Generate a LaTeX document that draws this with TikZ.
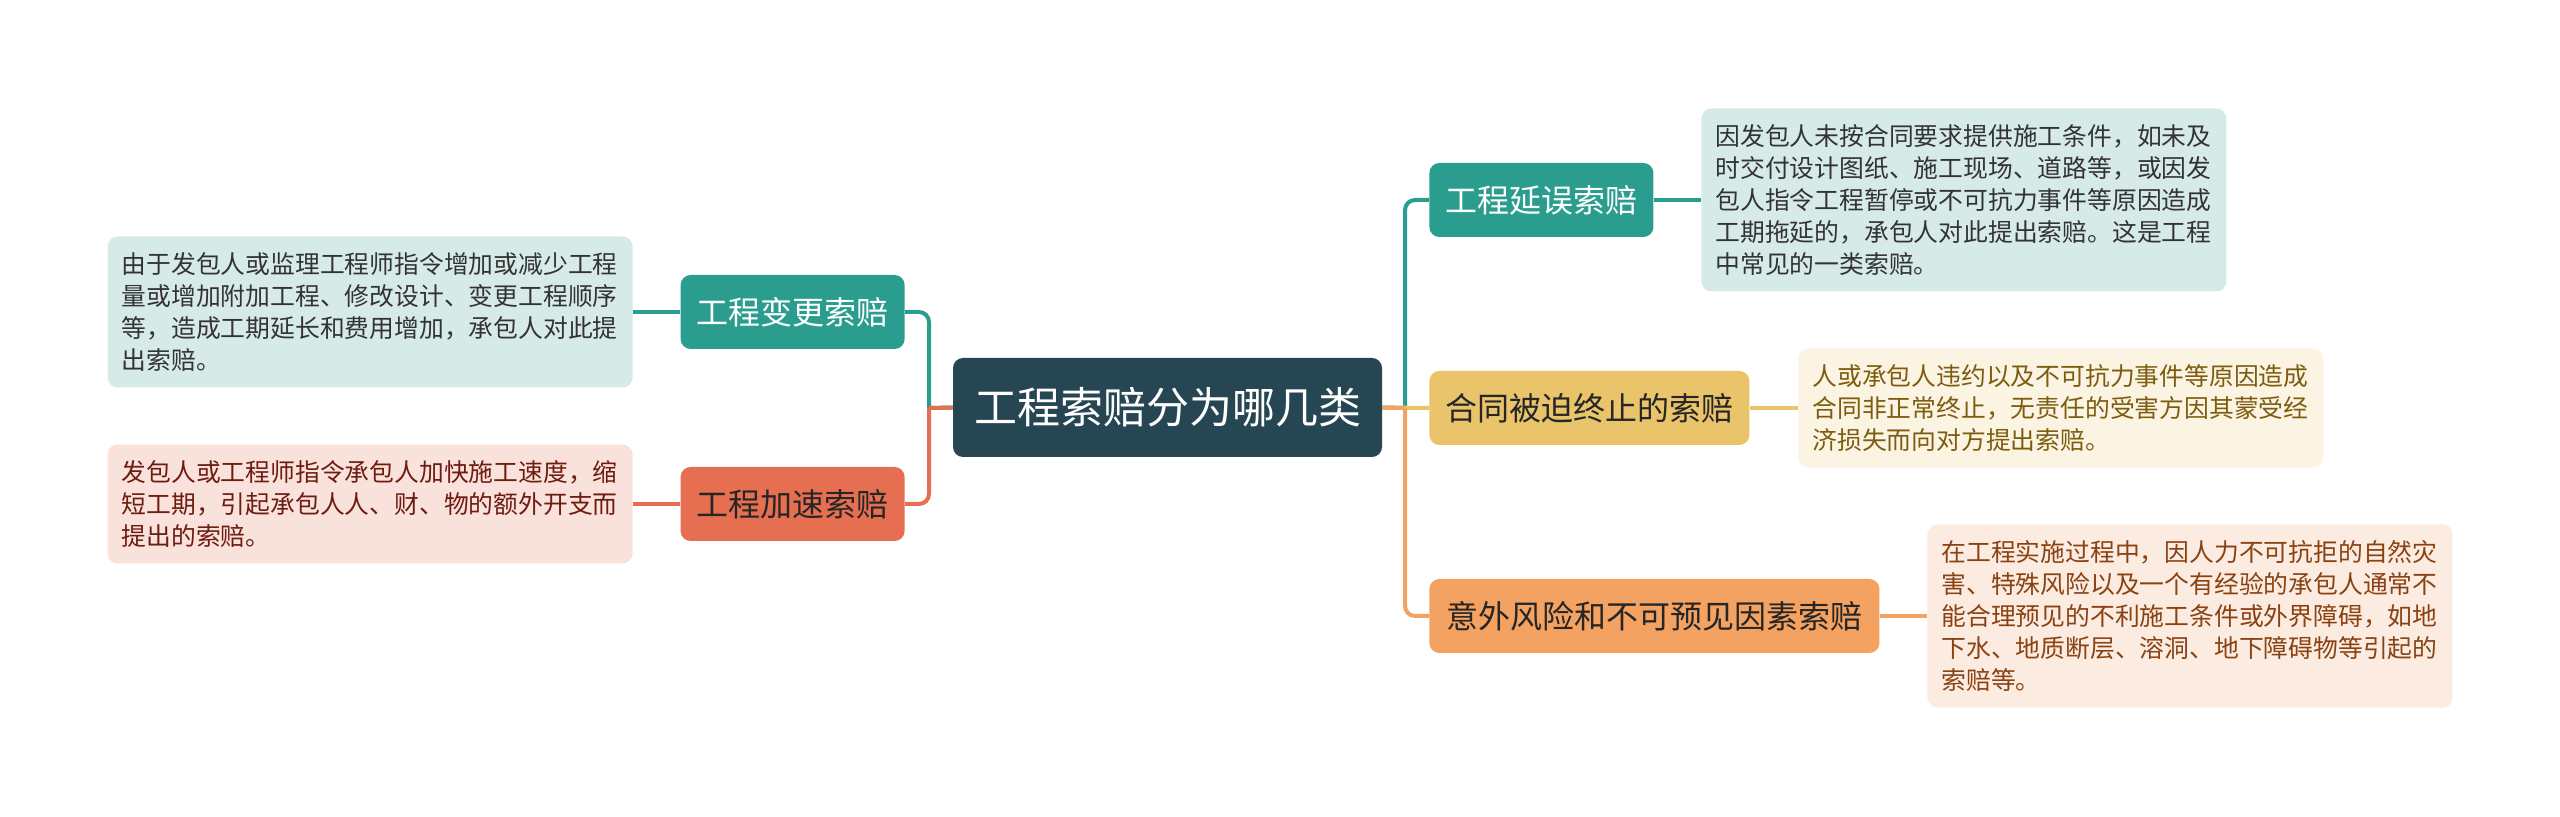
\documentclass[tikz,border=0pt]{standalone}
\usepackage{fontspec}
\setmainfont{Noto Sans CJK SC}
\usepackage{tikz}
\usetikzlibrary{positioning}
\definecolor{mmdark}{RGB}{38,70,83}
\definecolor{mmteal}{RGB}{42,157,143}
\definecolor{mmyellow}{RGB}{233,196,106}
\definecolor{mmsand}{RGB}{244,162,97}
\definecolor{mmburnt}{RGB}{231,111,81}
\definecolor{mmtealbg}{RGB}{214,235,232}
\definecolor{mmpinkbg}{RGB}{250,226,220}
\definecolor{mmcreambg}{RGB}{251,244,226}
\definecolor{mmpeachbg}{RGB}{252,235,224}

\begin{document}
\begin{tikzpicture}[x=0.5pt,y=-0.5pt,
    topic/.style={rounded corners=5pt,fill=mmdark,text=white,minimum width=214.5pt,minimum height=49.5pt,font=\fontsize{21.5}{26}\selectfont},
    branch/.style={rounded corners=5pt,minimum height=37pt,inner xsep=8pt,font=\fontsize{16}{20}\selectfont},
    leaf/.style={rounded corners=5pt,text width=248.5pt,align=left,inner xsep=7pt,inner ysep=8pt,font=\fontsize{12.4}{16}\selectfont},
    link/.style={line width=2pt}]
    \fill[white] (0,0) rectangle (2560,817);
    \useasboundingbox (0,0) rectangle (2560,817);
    % centre and the two joints
    \node[topic] (root) at (1167.5,407.5) {工程索赔分为哪几类};
    \coordinate (lj) at (929,408);
    \coordinate (rj) at (1405,408);
    % left side
    \node[branch,fill=mmteal,text=white,anchor=east] (chg) at (905,312) {工程变更索赔};
    \node[branch,fill=mmburnt,text=black!85,anchor=east] (acc) at (905,504) {工程加速索赔};
    \node[leaf,fill=mmtealbg,text=black!80,anchor=east] (chgtxt) at (633,312) {由于发包人或监理工程师指令增加或减少工程\\量或增加附加工程、修改设计、变更工程顺序\\等，造成工期延长和费用增加，承包人对此提\\出索赔。};
    \node[leaf,fill=mmpinkbg,text={rgb,255:red,110;green,28;blue,16},anchor=east] (acctxt) at (633,504) {发包人或工程师指令承包人加快施工速度，缩\\短工期，引起承包人人、财、物的额外开支而\\提出的索赔。};
    % right side
    \node[branch,fill=mmteal,text=white,anchor=west] (dly) at (1429,200) {工程延误索赔};
    \node[branch,fill=mmyellow,text=black!85,anchor=west] (trm) at (1429,408) {合同被迫终止的索赔};
    \node[branch,fill=mmsand,text=black!85,anchor=west,minimum width=225pt] (rsk) at (1429,616) {意外风险和不可预见因素索赔};
    \node[leaf,fill=mmtealbg,text=black!80,anchor=west] (dlytxt) at (1701,200) {因发包人未按合同要求提供施工条件，如未及\\时交付设计图纸、施工现场、道路等，或因发\\包人指令工程暂停或不可抗力事件等原因造成\\工期拖延的，承包人对此提出索赔。这是工程\\中常见的一类索赔。};
    \node[leaf,fill=mmcreambg,text={rgb,255:red,125;green,92;blue,15},anchor=west] (trmtxt) at (1798,408) {人或承包人违约以及不可抗力事件等原因造成\\合同非正常终止，无责任的受害方因其蒙受经\\济损失而向对方提出索赔。};
    \node[leaf,fill=mmpeachbg,text={rgb,255:red,138;green,66;blue,18},anchor=west] (rsktxt) at (1927,616) {在工程实施过程中，因人力不可抗拒的自然灾\\害、特殊风险以及一个有经验的承包人通常不\\能合理预见的不利施工条件或外界障碍，如地\\下水、地质断层、溶洞、地下障碍物等引起的\\索赔等。};
    % connectors
    \draw[link,mmteal] (root.west) -- (lj) (lj) [rounded corners=5pt] |- (chg.east);
    \draw[link,mmburnt] (root.west) -- (lj) (lj) [rounded corners=5pt] |- (acc.east);
    \draw[link,mmteal] (root.east) -- (rj) (rj) [rounded corners=5pt] |- (dly.west);
    \draw[link,mmyellow] (root.east) -- (trm.west);
    \draw[link,mmsand] (root.east) -- (rj) (rj) [rounded corners=5pt] |- (rsk.west);
    \draw[link,mmteal] (chg.west) -- (chgtxt.east);
    \draw[link,mmburnt] (acc.west) -- (acctxt.east);
    \draw[link,mmteal] (dly.east) -- (dlytxt.west);
    \draw[link,mmyellow] (trm.east) -- (trmtxt.west);
    \draw[link,mmsand] (rsk.east) -- (rsktxt.west);
  \end{tikzpicture}
\end{document}
